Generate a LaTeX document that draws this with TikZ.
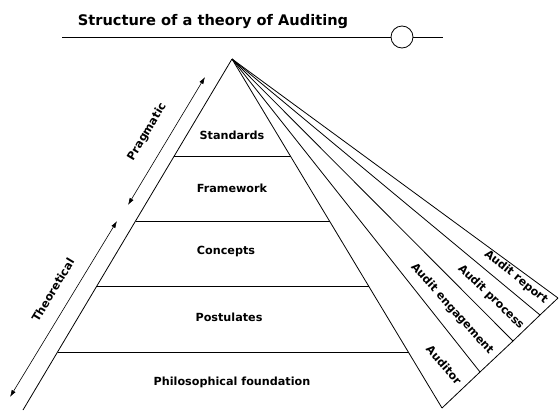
\documentclass[tikz,border=0pt]{standalone}
\usepackage{fontspec}
\setmainfont{DejaVu Sans}
\usetikzlibrary{arrows.meta}

\tikzset{
  lbl/.style={font=\bfseries\fontsize{11.2}{13}\selectfont},
  ttl/.style={font=\bfseries\fontsize{14.6}{17}\selectfont},
  side/.style={{Latex[length=7pt,width=4.5pt]}-{Latex[length=7pt,width=4.5pt]}, line width=0.6pt},
}

\begin{document}
\begin{tikzpicture}[x=1pt, y=-1pt, line width=0.8pt]
  \useasboundingbox (0,0) rectangle (559,410);

  % title with rule
  \node[ttl] (title) at (213,22) {Structure of a theory of Auditing};
  \coordinate (tl) at (62,37);
  \coordinate (tr) at (443,37);
  \node[draw, circle, fill=white, minimum size=22pt, inner sep=0pt] (knob) at (402,37) {};
  \draw (tl) -- (knob) -- (tr);

  % pyramid
  \coordinate (apex) at (232,59);
  \coordinate (lb) at (23,410);
  \coordinate (f1) at (442,408);
  \coordinate (f2) at (480,372);
  \coordinate (f3) at (513,341);
  \coordinate (f4) at (540,315);
  \coordinate (f5) at (558,298);

  \draw (apex) -- (lb);
  \foreach \e in {f1,f2,f3,f4,f5}
    \draw (apex) -- (\e);
  \draw (f1) -- (f2) -- (f3) -- (f4) -- (f5);

  \coordinate (l1) at (174,156);   \coordinate (r1) at (290.6,156);
  \coordinate (l2) at (135.5,221); \coordinate (r2) at (330,221);
  \coordinate (l3) at (96.8,286);  \coordinate (r3) at (369,286);
  \coordinate (l4) at (57.5,352);  \coordinate (r4) at (409,352);
  \draw (l1) -- (r1);
  \draw (l2) -- (r2);
  \draw (l3) -- (r3);
  \draw (l4) -- (r4);

  \node[lbl] (std) at (232,135) {Standards};
  \node[lbl] (frm) at (232,188) {Framework};
  \node[lbl] (cpt) at (226,252) {Concepts};
  \node[lbl] (pst) at (229,317) {Postulates};
  \node[lbl] (phi) at (232,382) {Philosophical foundation};

  % fan labels
  \node[lbl, rotate=-39] (rep) at (516,277) {Audit report};
  \node[lbl, rotate=-44] (pro) at (491,297) {Audit process};
  \node[lbl, rotate=-48] (eng) at (452,309) {Audit engagement};
  \node[lbl, rotate=-49] (aud) at (444,365) {Auditor};

  % side arrows
  \coordinate (pa) at (128,205);
  \coordinate (pb) at (205,77);
  \coordinate (ta) at (10,397);
  \coordinate (tb) at (117,221);
  \draw[side] (pa) -- (pb);
  \draw[side] (ta) -- (tb);
  \node[lbl, rotate=59] (prg) at (147,132) {Pragmatic};
  \node[lbl, rotate=59] (thr) at (53,290) {Theoretical};
\end{tikzpicture}
\end{document}
